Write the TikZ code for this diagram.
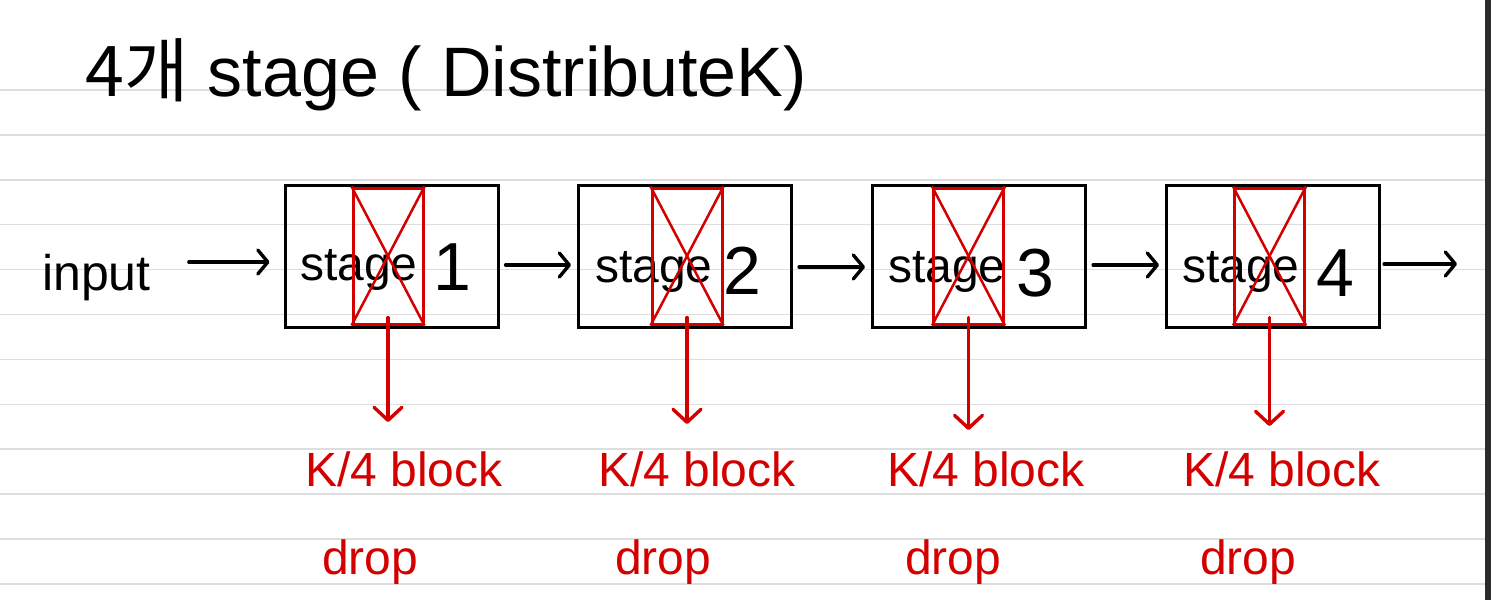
\documentclass[tikz,border=0pt]{standalone}
\usepackage{fontspec}
\setmainfont{Liberation Sans}
\newfontfamily\kofont{Noto Sans CJK KR}
\usetikzlibrary{arrows.meta}
\definecolor{penred}{HTML}{D40000}
\definecolor{ruleline}{HTML}{DEDEDE}
\definecolor{edgebar}{HTML}{2B2B2B}
\begin{document}
\begin{tikzpicture}[x=1pt,y=-1pt,
  stagebox/.style={draw=black, line width=3pt, minimum width=213pt, minimum height=142pt, inner sep=0pt},
  dropbox/.style={draw=penred, line width=3pt, minimum width=70pt, minimum height=136pt, inner sep=0pt},
  crossline/.style={draw=penred, line width=2.5pt},
  stagetxt/.style={inner sep=0pt, anchor=base west, font=\fontsize{48}{50}\selectfont},
  numtxt/.style={inner sep=0pt, anchor=base, font=\fontsize{68}{70}\selectfont},
  redtxt/.style={inner sep=0pt, anchor=north west, text=penred, font=\fontsize{48}{50}\selectfont},
  flow/.style={draw=black, line width=3.2pt, line cap=round, -{Straight Barb[length=10pt,width=24pt,line width=3.4pt,round]}},
  dropflow/.style={draw=penred, line width=3.2pt, line cap=round, -{Straight Barb[length=13pt,width=28pt,line width=3.4pt,round]}}
]
\useasboundingbox (0,0) rectangle (1491,600);
\fill[white] (0,0) rectangle (1491,600);
\foreach \k in {0,...,11}
  \draw[ruleline, line width=1.5pt] (0,{90+44.9*\k}) -- (1485,{90+44.9*\k});
\fill[edgebar] (1485,0) rectangle (1491,600);

% title
\node[inner sep=0pt, anchor=base west, font=\fontsize{70}{72}\selectfont] (title) at (85,96)
  {{\kofont 4개} stage ( DistributeK)};

% input
\node[inner sep=0pt, anchor=base west, font=\fontsize{50}{52}\selectfont] (in) at (42,290) {input};

% stage boxes
\node[stagebox] (b1) at (391.5,256) {};
\node[stagebox] (b2) at (685,256) {};
\node[stagebox] (b3) at (979,256) {};
\node[stagebox] (b4) at (1273,256) {};

\node[stagetxt] (s1) at (300,280) {stage};
\node[stagetxt] (s2) at (595,282) {stage};
\node[stagetxt] (s3) at (888,282) {stage};
\node[stagetxt] (s4) at (1182,282) {stage};
\node[numtxt] (n1) at (452,290) {1};
\node[numtxt] (n2) at (742,294) {2};
\node[numtxt] (n3) at (1035,296) {3};
\node[numtxt] (n4) at (1335,296) {4};

% dropped blocks
\node[dropbox] (r1) at (388,256) {};
\node[dropbox] (r2) at (687,256) {};
\node[dropbox] (r3) at (968.5,256) {};
\node[dropbox] (r4) at (1269.5,256) {};
\foreach \r in {r1,r2,r3,r4}{
  \draw[crossline] (\r.north west) -- (\r.south east);
  \draw[crossline] (\r.north east) -- (\r.south west);
}

% labels
\node[redtxt] (k1) at (305,452) {K/4 block};
\node[redtxt] (k2) at (598,452) {K/4 block};
\node[redtxt] (k3) at (887,452) {K/4 block};
\node[redtxt] (k4) at (1183,452) {K/4 block};
\node[redtxt] (d1) at (322,540) {drop};
\node[redtxt] (d2) at (615,540) {drop};
\node[redtxt] (d3) at (905,540) {drop};
\node[redtxt] (d4) at (1200,540) {drop};

% flow arrows
\coordinate (out) at (1457,264);
\draw[flow, shorten <=38pt, shorten >=14pt] (in.east |- 0,262) -- (b1.west |- 0,262);
\draw[flow, shorten <=6pt, shorten >=6pt] (b1.east |- 0,265) -- (b2.west |- 0,265);
\draw[flow, shorten <=6pt, shorten >=6pt] (b2.east |- 0,267) -- (b3.west |- 0,267);
\draw[flow, shorten <=6pt, shorten >=6pt] (b3.east |- 0,265) -- (b4.west |- 0,265);
\draw[flow, shorten <=3pt] (b4.east |- out) -- (out);

% drop arrows
\draw[dropflow, shorten <=-8pt, shorten >=30pt] (r1.south) -- (r1.south |- k1.north);
\draw[dropflow, shorten <=-8pt, shorten >=28pt] (r2.south) -- (r2.south |- k2.north);
\draw[dropflow, shorten <=-8pt, shorten >=22pt] (r3.south) -- (r3.south |- k3.north);
\draw[dropflow, shorten <=-8pt, shorten >=26pt] (r4.south) -- (r4.south |- k4.north);
\end{tikzpicture}
\end{document}
